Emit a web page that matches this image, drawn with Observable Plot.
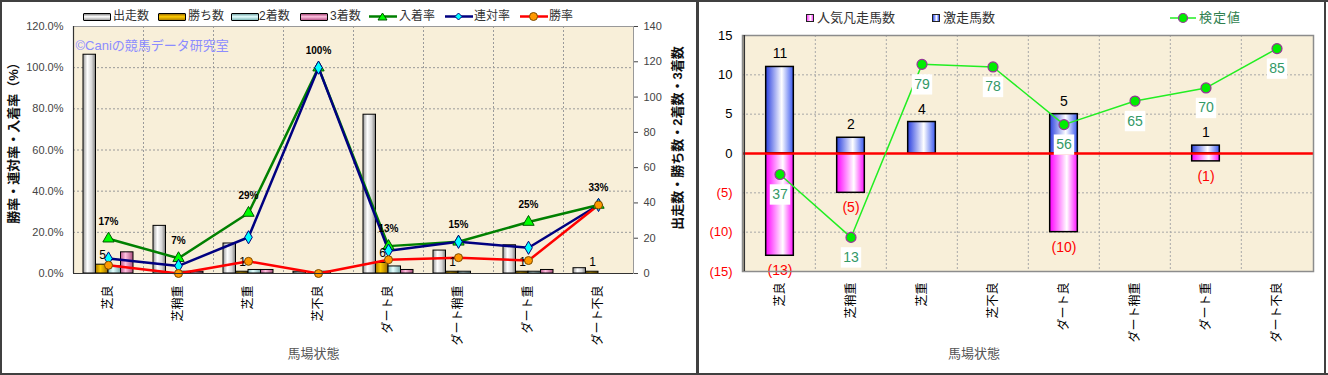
<!DOCTYPE html>
<html><head><meta charset="utf-8">
<script src="https://cdn.jsdelivr.net/npm/d3@7"></script>
<script src="https://cdn.jsdelivr.net/npm/@observablehq/plot@0.6"></script>
<style>
body{margin:0;background:#fff;}
#wrap{position:relative;width:1328px;height:375px;overflow:hidden;background:#fff;font-family:"Liberation Sans","Noto Sans CJK JP",sans-serif;}
.abs{position:absolute;}
.line{position:absolute;background:#404040;}
.lg{position:absolute;font-size:12px;color:#333;line-height:14px;white-space:nowrap;}
.rg{position:absolute;font-size:13px;color:#333;line-height:15px;white-space:nowrap;}
.barIcon{position:absolute;width:26px;height:6px;border:1px solid #000;border-radius:1px;}
.sq{position:absolute;width:6px;height:6px;border:1px solid #222;}
</style></head><body>
<div id="wrap">
  <div id="left" class="abs" style="left:0;top:0;width:697px;height:375px"></div>
  <div id="right" class="abs" style="left:697px;top:0;width:631px;height:375px"></div>
  <div id="legendL"></div>
  <div id="legendR"></div>
  <div class="line" style="left:0;top:0;width:1328px;height:2px"></div>
  <div class="line" style="left:0;top:0;width:2px;height:375px"></div>
  <div class="line" style="left:0;top:373px;width:1328px;height:2px"></div>
  <div class="line" style="left:696px;top:0;width:3px;height:375px"></div>
  <div class="line" style="left:1324px;top:0;width:2px;height:375px"></div>
</div>
<script>
// ---------- data ----------
const categories = ["芝良","芝稍重","芝重","芝不良","ダート良","ダート稍重","ダート重","ダート不良"];
// left chart: counts
const starts  = [124, 27, 17, 1, 90, 13, 16, 3];
const wins    = [5, 0, 1, 0, 6, 1, 1, 1];
const seconds = [4, 1, 2, 1, 4, 1, 1, 0];
const thirds  = [12, 1, 2, 0, 2, 0, 2, 0];
// left chart: rates
const winRate    = [0.040, 0.000, 0.059, 0.000, 0.067, 0.077, 0.063, 0.333];
const rentaiRate = [0.073, 0.037, 0.176, 1.000, 0.111, 0.154, 0.125, 0.333];
const placeRate  = [0.169, 0.074, 0.294, 1.000, 0.133, 0.154, 0.250, 0.333];
const placeLabels = ["17%","7%","29%","100%","13%","15%","25%","33%"];
const pctTicks   = [0, 0.2, 0.4, 0.6, 0.8, 1.0, 1.2];
const countTicks = [0, 20, 40, 60, 80, 100, 120, 140];
// right chart
const surge  = [11, 2, 4, 0, 5, 0, 1, 0];   // 激走馬数
const flop   = [13, 5, 0, 0, 10, 0, 1, 0];  // 人気凡走馬数
const kentei = [37, 13, 79, 78, 56, 65, 70, 85]; // 検定値
const rightTicksPos = [0, 5, 10, 15];
const rightTicksNeg = [-15, -10, -5];

const FONT = '"Liberation Sans","Noto Sans CJK JP",sans-serif';
const idx = d3.range(categories.length);
const cx = i => categories[i];

function defs(list){
  return () => {
    const d = d3.create("svg:defs");
    for (const [id, stops, vertical] of list){
      const g = d.append("linearGradient").attr("id", id)
        .attr("x1","0").attr("y1","0").attr("x2", vertical ? "0" : "1").attr("y2", vertical ? "1" : "0");
      for (const [o, c] of stops) g.append("stop").attr("offset", o).attr("stop-color", c);
    }
    return d.node();
  };
}

// ---------- left chart ----------
const k = 1.2 / 140; // count -> percent axis
const bw = 70;
const sub = 12.5, off0 = 10;
const inset = j => ({insetLeft: off0 + sub*j, insetRight: bw - (off0 + sub*(j+1))});
const barSeries = [
  [starts,  "url(#gStart)"],
  [wins,    "url(#gWin)"],
  [seconds, "url(#gSecond)"],
  [thirds,  "url(#gThird)"]
];

const left = Plot.plot({
  width: 697, height: 375,
  marginLeft: 73, marginRight: 64, marginTop: 26, marginBottom: 102,
  style: {fontFamily: FONT, fontSize: "11px", background: "transparent"},
  x: {type: "band", domain: categories, padding: 0, axis: null},
  y: {domain: [0, 1.2], axis: null},
  marks: [
    defs([
      ["gStart", [[0,"#9a9a9a"],[0.35,"#ffffff"],[0.7,"#d8d8d8"],[1,"#7a7a7a"]]],
      ["gWin", [[0,"#a87a00"],[0.4,"#ffcc00"],[1,"#9a6a00"]]],
      ["gSecond", [[0,"#7fb8b8"],[0.4,"#e4ffff"],[1,"#78a8a8"]]],
      ["gThird", [[0,"#b85a8c"],[0.4,"#ffc0e0"],[1,"#a84c7c"]]]
    ]),
    Plot.frame({fill: "#f8efd9"}),
    Plot.gridY(pctTicks.slice(1, -1), {stroke: "#9a9a9a", strokeOpacity: 1, strokeDasharray: "2,2"}),
    Plot.ruleX(categories.slice(1), {dx: -bw/2, stroke: "#9a9a9a", strokeDasharray: "2,2"}),
    ...barSeries.map(([vals, fill], j) =>
      Plot.barY(idx.filter(i => vals[i] > 0), {x: cx, y: i => vals[i]*k, fill, stroke: "#000", strokeWidth: 1, ...inset(j)})
    ),
    Plot.line(idx, {x: cx, y: i => placeRate[i], stroke: "#008000", strokeWidth: 2.5}),
    Plot.line(idx, {x: cx, y: i => rentaiRate[i], stroke: "#000080", strokeWidth: 2.5}),
    Plot.line(idx, {x: cx, y: i => winRate[i], stroke: "#ff0000", strokeWidth: 2.5}),
    Plot.dot(idx, {x: cx, y: i => placeRate[i], symbol: "triangle", r: 4.2, fill: "#00ff00", stroke: "#005500", strokeWidth: 1}),
    Plot.dot(idx, {x: cx, y: i => rentaiRate[i], symbol: "diamond", r: 4, fill: "#00ffff", stroke: "#000080", strokeWidth: 1}),
    Plot.dot(idx, {x: cx, y: i => winRate[i], symbol: "circle", r: 4, fill: "#ff9900", stroke: "#7a4a00", strokeWidth: 1}),
    Plot.text(idx, {x: cx, y: i => placeRate[i], text: i => placeLabels[i], dy: -17, fontSize: 10, fontWeight: "bold", fill: "#000"}),
    Plot.text(idx.filter(i => wins[i] > 0), {x: cx, y: i => wins[i]*k, text: i => String(wins[i]), dx: -6, dy: -10, fontSize: 12, fill: "#000"}),
    Plot.text(["©Caniの競馬データ研究室"], {frameAnchor: "top-left", dx: 2, dy: 14, textAnchor: "start", fontSize: 13, fill: "#8c8cff"}),
    Plot.axisY(pctTicks, {anchor: "left", tickFormat: d3.format(".1%"), tickSize: 0, tickPadding: 10, fontSize: 11, color: "#444", label: null}),
    Plot.axisY(countTicks.map(c => c*k), {anchor: "right", tickFormat: v => String(Math.round(v/k)), tickSize: 4, tickPadding: 6, fontSize: 11, color: "#444", label: null}),
    Plot.axisX({tickSize: 0, tickPadding: 12, tickRotate: -90, fontSize: 12, color: "#000", label: null}),
    Plot.frame({stroke: "#999", strokeWidth: 1}),
    Plot.ruleX([categories[0]], {dx: -bw/2, stroke: "#333", strokeWidth: 1.2}),
    Plot.ruleY([0], {stroke: "#333", strokeWidth: 1.2}),
    Plot.text(["勝率・連対率・入着率（%）"], {frameAnchor: "left", textAnchor: "middle", rotate: -90, dx: -60, dy: -10, fontSize: 13, fontWeight: "bold", fill: "#111"}),
    Plot.text(["出走数・勝ち数・2着数・3着数"], {frameAnchor: "right", textAnchor: "middle", rotate: -90, dx: 44, dy: -12, fontSize: 13, fontWeight: "bold", fill: "#111"}),
    Plot.text(["馬場状態"], {frameAnchor: "bottom", dx: -40, dy: 84, fontSize: 13, fill: "#555"})
  ]
});
document.getElementById("left").appendChild(left);

// ---------- right chart ----------
const bw2 = 571 / 8;
const ins2 = (bw2 - 28) / 2;
const kScale = d3.scaleLinear([0, 90], [-15, 15]); // secondary (hidden) axis for 検定値
const right = Plot.plot({
  width: 631, height: 375,
  marginLeft: 45, marginRight: 15, marginTop: 35, marginBottom: 104,
  style: {fontFamily: FONT, fontSize: "13px", background: "transparent"},
  x: {type: "band", domain: categories, padding: 0, axis: null},
  y: {domain: [-15, 15], axis: null},
  marks: [
    defs([
      ["gBlue", [[0,"#2a40e0"],[0.58,"#ffffff"],[1,"#3a58f0"]]],
      ["gPink", [[0,"#ff00ff"],[0.62,"#ffffff"],[1,"#ff10ff"]]]
    ]),
    Plot.frame({fill: "#f8efd9"}),
    Plot.gridY([-10, -5, 5, 10], {stroke: "#a8a8a8", strokeOpacity: 1, strokeDasharray: "2,2"}),
    Plot.ruleX(categories.slice(1), {dx: -bw2/2, stroke: "#a8a8a8", strokeDasharray: "2,2"}),
    Plot.barY(idx.filter(i => surge[i] > 0), {x: cx, y: i => surge[i], fill: "url(#gBlue)", stroke: "#000", strokeWidth: 1.5, insetLeft: ins2, insetRight: ins2}),
    Plot.barY(idx.filter(i => flop[i] > 0), {x: cx, y: i => -flop[i], fill: "url(#gPink)", stroke: "#000", strokeWidth: 1.5, insetLeft: ins2, insetRight: ins2}),
    Plot.ruleY([0], {stroke: "#ff0000", strokeWidth: 2.5}),
    Plot.line(idx, {x: cx, y: i => kScale(kentei[i]), stroke: "#22ee22", strokeWidth: 1.5}),
    Plot.dot(idx, {x: cx, y: i => kScale(kentei[i]), r: 5, fill: "#00ee00", stroke: "#993399", strokeWidth: 1.2}),
    Plot.dot(idx, {x: cx, y: i => kScale(kentei[i]), symbol: "square", r: 11.5, fill: "#fff", dy: 20}),
    Plot.text(idx, {x: cx, y: i => kScale(kentei[i]), text: i => String(kentei[i]), dy: 20, fontSize: 14, fill: "#339966"}),
    Plot.text(idx.filter(i => surge[i] > 0), {x: cx, y: i => surge[i], text: i => String(surge[i]), dy: -13, fontSize: 14, fill: "#000"}),
    Plot.text(idx.filter(i => flop[i] > 0), {x: cx, y: i => -flop[i], text: i => `(${flop[i]})`, dy: 15, fontSize: 14, fill: "#ff0000"}),
    Plot.axisY(rightTicksPos, {anchor: "left", tickSize: 0, tickPadding: 10, fontSize: 13, color: "#000", label: null}),
    Plot.axisY(rightTicksNeg, {anchor: "left", tickSize: 0, tickPadding: 10, fontSize: 13, color: "#ff0000", tickFormat: v => `(${-v})`, label: null}),
    Plot.axisX({tickSize: 0, tickPadding: 11, tickRotate: -90, fontSize: 12, color: "#000", label: null}),
    Plot.frame({stroke: "#8c8c8c", strokeWidth: 1.5}),
    Plot.ruleX([categories[0]], {dx: -bw2/2, stroke: "#333", strokeWidth: 1.5}),
    Plot.text(["馬場状態"], {frameAnchor: "bottom", dx: -54, dy: 86, fontSize: 13, fill: "#555"})
  ]
});
document.getElementById("right").appendChild(right);

// ---------- legends (HTML) ----------
const legL = document.getElementById("legendL");
const barLegend = [
  ["出走数", "linear-gradient(#8a8a8a,#ffffff 45%,#a0a0a0)", 83, 113],
  ["勝ち数", "linear-gradient(#a07000,#ffcc00 45%,#b08000)", 158, 188],
  ["2着数", "linear-gradient(#78a8a8,#e4ffff 45%,#80b8b8)", 231, 259],
  ["3着数", "linear-gradient(#a84c7c,#ffc0e0 45%,#b85a8c)", 300, 330]
];
for (const [name, bg, ix, tx] of barLegend){
  legL.insertAdjacentHTML("beforeend",
    `<div class="barIcon" style="left:${ix}px;top:13px;background:${bg}"></div><div class="lg" style="left:${tx}px;top:9px">${name}</div>`);
}
const lineLegend = [
  ["入着率", "#008000", "tri", 369, 399],
  ["連対率", "#000080", "dia", 445, 474],
  ["勝率", "#ff0000", "cir", 520, 549]
];
for (const [name, col, sym, ix, tx] of lineLegend){
  let m = "";
  if (sym === "tri") m = `<polygon points="13.5,1 18,8 9,8" fill="#00ff00" stroke="#005500" stroke-width="1"/>`;
  if (sym === "dia") m = `<polygon points="13.5,1 17,4.5 13.5,8 10,4.5" fill="#00ffff" stroke="#000080" stroke-width="1"/>`;
  if (sym === "cir") m = `<circle cx="13.5" cy="4.5" r="4" fill="#ff9900" stroke="#7a4a00" stroke-width="1"/>`;
  legL.insertAdjacentHTML("beforeend",
    `<svg class="abs" style="left:${ix}px;top:12px" width="28" height="10"><line x1="0" y1="4.5" x2="28" y2="4.5" stroke="${col}" stroke-width="2.5"/>${m}</svg><div class="lg" style="left:${tx}px;top:9px">${name}</div>`);
}
const legR = document.getElementById("legendR");
legR.insertAdjacentHTML("beforeend",
  `<div class="sq" style="left:806px;top:14px;background:linear-gradient(90deg,#ff40ff,#fff 60%,#ff40ff)"></div><div class="rg" style="left:817px;top:10px">人気凡走馬数</div>` +
  `<div class="sq" style="left:932px;top:14px;background:linear-gradient(90deg,#3050f0,#fff 60%,#3050f0)"></div><div class="rg" style="left:943px;top:10px">激走馬数</div>` +
  `<svg class="abs" style="left:1170px;top:12px" width="26" height="12"><line x1="0" y1="6" x2="26" y2="6" stroke="#22ee22" stroke-width="1.5"/><circle cx="13" cy="6" r="4.5" fill="#00ee00" stroke="#993399" stroke-width="1.2"/></svg><div class="rg" style="left:1199px;top:10px;color:#2f7f4f;letter-spacing:1px">検定値</div>`);
</script>
</body></html>
